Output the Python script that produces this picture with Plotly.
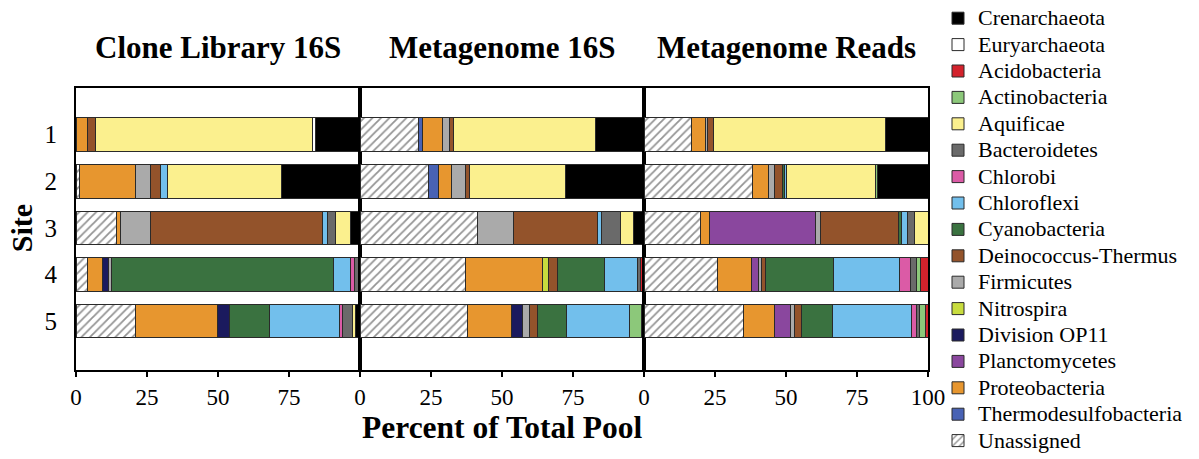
import plotly.graph_objects as go
from plotly.subplots import make_subplots

sites = [1, 2, 3, 4, 5]
site_labels = ["1", "2", "3", "4", "5"]

# stacking order, left to right
phyla = [
    "Unassigned", "Thermodesulfobacteria", "Proteobacteria", "Planctomycetes",
    "Division OP11", "Nitrospira", "Firmicutes", "Deinococcus-Thermus",
    "Cyanobacteria", "Chloroflexi", "Chlorobi", "Bacteroidetes", "Aquificae",
    "Actinobacteria", "Acidobacteria", "Euryarchaeota", "Crenarchaeota",
]

colors = {
    "Crenarchaeota": "#000000",
    "Euryarchaeota": "#ffffff",
    "Acidobacteria": "#d3222c",
    "Actinobacteria": "#8cc87a",
    "Aquificae": "#fbf08e",
    "Bacteroidetes": "#6a6a6a",
    "Chlorobi": "#db5ba6",
    "Chloroflexi": "#72bfec",
    "Cyanobacteria": "#3a7240",
    "Deinococcus-Thermus": "#93532b",
    "Firmicutes": "#aaaaaa",
    "Nitrospira": "#c8dc3e",
    "Division OP11": "#1b1a5e",
    "Planctomycetes": "#8a479e",
    "Proteobacteria": "#e7962f",
    "Thermodesulfobacteria": "#4862b4",
    "Unassigned": "#ffffff",
}

# percent of total pool, sites 1-5
clone_16s = {
    "Unassigned": [0, 1.2, 14.3, 4.0, 21.0],
    "Proteobacteria": [4.1, 19.9, 1.5, 5.3, 28.8],
    "Division OP11": [0, 0, 0, 2.3, 4.2],
    "Firmicutes": [0, 5.3, 10.6, 0.9, 0],
    "Deinococcus-Thermus": [2.6, 3.2, 60.4, 0, 0],
    "Cyanobacteria": [0, 0, 0, 78.0, 14.0],
    "Chloroflexi": [0, 2.7, 1.9, 6.3, 24.8],
    "Chlorobi": [0, 0, 0, 1.3, 1.1],
    "Bacteroidetes": [0, 0, 2.6, 1.9, 3.3],
    "Aquificae": [76.6, 40.0, 5.5, 0, 1.1],
    "Euryarchaeota": [0.9, 0, 0, 0, 0],
    "Crenarchaeota": [15.8, 27.7, 3.2, 0, 1.7],
}

metagenome_16s = {
    "Unassigned": [20.6, 24.1, 41.4, 37.0, 37.8],
    "Thermodesulfobacteria": [1.5, 3.5, 0, 0, 0],
    "Proteobacteria": [6.9, 4.7, 0, 27.1, 15.6],
    "Division OP11": [0, 0, 0, 0, 3.8],
    "Nitrospira": [0, 0, 0, 2.1, 0],
    "Firmicutes": [2.5, 4.7, 12.8, 0, 2.6],
    "Deinococcus-Thermus": [1.4, 1.4, 29.4, 3.2, 2.6],
    "Cyanobacteria": [0, 0, 0, 16.7, 10.3],
    "Chloroflexi": [0, 0, 1.6, 11.7, 22.3],
    "Bacteroidetes": [0, 0, 6.4, 0.8, 0],
    "Aquificae": [50.0, 34.0, 4.8, 0, 0],
    "Actinobacteria": [0, 0, 0, 0, 4.0],
    "Acidobacteria": [0, 0, 0, 1.4, 0],
    "Crenarchaeota": [17.1, 27.6, 3.6, 0, 1.0],
}

metagenome_reads = {
    "Unassigned": [16.6, 38.2, 19.8, 25.8, 34.9],
    "Proteobacteria": [4.9, 5.8, 3.1, 12.0, 10.9],
    "Planctomycetes": [0, 0, 37.5, 2.4, 5.8],
    "Firmicutes": [0.9, 1.8, 1.9, 1.1, 1.3],
    "Deinococcus-Thermus": [2.0, 2.9, 27.2, 1.4, 2.6],
    "Cyanobacteria": [0, 0.6, 1.0, 23.9, 10.9],
    "Chloroflexi": [0, 0.8, 2.2, 23.3, 27.9],
    "Chlorobi": [0, 0, 0, 3.8, 1.8],
    "Bacteroidetes": [0, 0, 2.4, 2.1, 0.9],
    "Aquificae": [60.6, 31.4, 4.9, 0, 0],
    "Actinobacteria": [0, 0.8, 0, 1.4, 2.0],
    "Acidobacteria": [0, 0, 0, 2.8, 1.0],
    "Crenarchaeota": [15.0, 17.7, 0, 0, 0],
}

panels = [
    ("Clone Library 16S", clone_16s),
    ("Metagenome 16S", metagenome_16s),
    ("Metagenome Reads", metagenome_reads),
]

SERIF = "Liberation Serif"

fig = make_subplots(rows=1, cols=3, shared_yaxes=True, horizontal_spacing=0)

for col, (title, table) in enumerate(panels, start=1):
    for name in phyla:
        values = table.get(name, [0] * len(sites))
        marker = dict(color=colors[name], line=dict(color="#2a2a2a", width=1))
        if name == "Unassigned":
            marker["pattern"] = dict(shape="/", fgcolor="#2a2a2a", bgcolor="#ffffff",
                                     size=6, solidity=0.3)
        fig.add_trace(
            go.Bar(
                x=values, y=sites, orientation="h", marker=marker,
                name=f'<span style="font-size:22px">{name}</span>',
                showlegend=(col == 1), legendgroup=name,
                hovertemplate=f"{name}: %{{x}}%<extra></extra>",
            ),
            row=1, col=col,
        )

for col in (1, 2, 3):
    tickvals = [0, 25, 50, 75, 100] if col == 3 else [0, 25, 50, 75]
    fig.update_xaxes(
        range=[0, 100], tickvals=tickvals, ticktext=[str(v) for v in tickvals],
        ticks="outside", ticklen=5, tickwidth=1.5, tickcolor="black",
        showline=True, linecolor="black", linewidth=2, mirror=True,
        showgrid=False, zeroline=False,
        tickfont=dict(family=SERIF, size=23, color="black"),
        row=1, col=col,
    )
    fig.update_yaxes(
        range=[6.05, 0], tickvals=sites, ticktext=site_labels,
        showline=True, linecolor="black", linewidth=2, mirror=True,
        showgrid=False, zeroline=False, ticks="", ticklabelstandoff=12,
        tickfont=dict(family=SERIF, size=25, color="black"),
        row=1, col=col,
    )

panel_centers = [1 / 6, 1 / 2, 5 / 6]
annotations = [
    dict(text=f"<b>{title}</b>", x=cx, y=1.145, xref="paper", yref="paper",
         xanchor="center", yanchor="middle", showarrow=False,
         font=dict(family=SERIF, size=31, color="black"))
    for cx, (title, _) in zip(panel_centers, panels)
]
annotations.append(dict(text="<b>Percent of Total Pool</b>", x=0.5, y=-0.205,
                        xref="paper", yref="paper", xanchor="center", yanchor="middle",
                        showarrow=False, font=dict(family=SERIF, size=31.5, color="black")))
annotations.append(dict(text="<b>Site</b>", x=-0.063, y=0.504, xref="paper", yref="paper",
                        xanchor="center", yanchor="middle", textangle=-90, showarrow=False,
                        font=dict(family=SERIF, size=30, color="black")))

fig.update_layout(
    width=1199, height=459,
    barmode="stack", bargap=0.28,
    margin=dict(l=76, r=271, t=88, b=89, autoexpand=False),
    paper_bgcolor="white", plot_bgcolor="white",
    font=dict(family=SERIF, color="black"),
    annotations=annotations,
    legend=dict(
        traceorder="reversed", xref="container", yref="container",
        x=938 / 1199, y=1.003, xanchor="left", yanchor="top",
        font=dict(family=SERIF, size=18.0, color="black"),
        bgcolor="rgba(0,0,0,0)", tracegroupgap=0, maxheight=600,
    ),
)

fig.write_html("out.html")
